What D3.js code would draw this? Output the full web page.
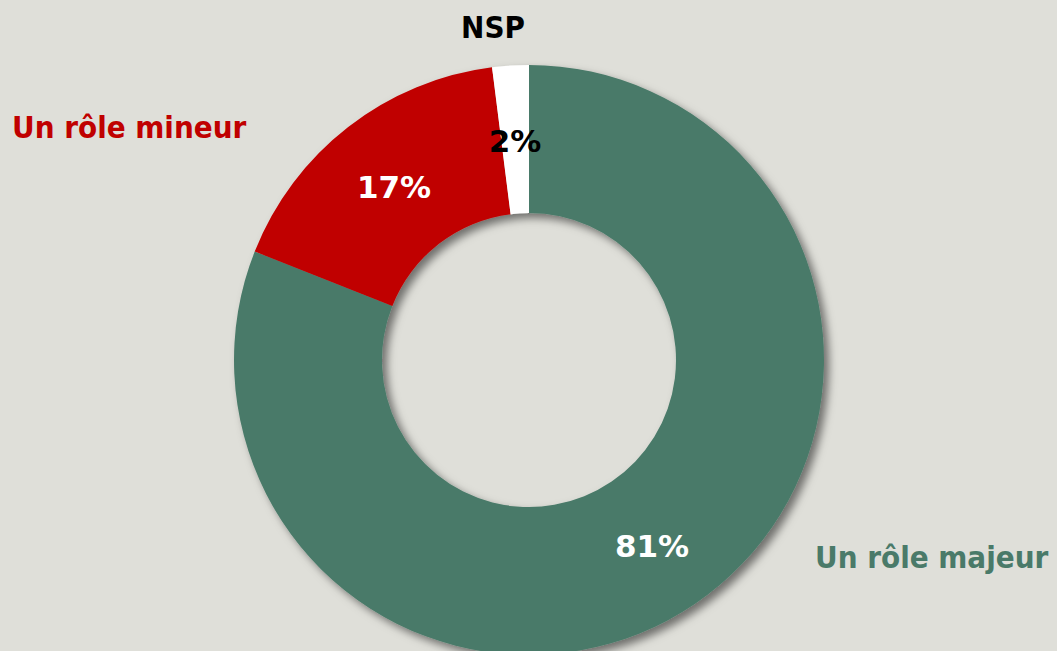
<!DOCTYPE html>
<html>
<head>
<meta charset="utf-8">
<script src="https://cdn.jsdelivr.net/npm/d3@7"></script>
<style>
  body { margin: 0; background: #dfdfd9; }
  text { font-weight: bold; }
  .val { font-family: "DejaVu Sans", Verdana, sans-serif; }
  .cat { font-family: "DejaVu Sans Condensed", "DejaVu Sans", sans-serif; font-stretch: condensed; }
</style>
</head>
<body>
<div id="chart"></div>
<script>
// data
var categories = ["Un rôle majeur", "Un rôle mineur", "NSP"];
var values = [81, 17, 2];
var colors = ["#4a7a69", "#c00000", "#ffffff"];
var labelColors = ["#4a7a69", "#c00000", "#000000"];
var valueColors = ["#ffffff", "#ffffff", "#000000"];

var width = 1057, height = 651;
var cx = 529, cy = 360;
var outerR = 295, innerR = 147;

var svg = d3.select("#chart").append("svg")
    .attr("width", width)
    .attr("height", height);

svg.append("rect").attr("width", width).attr("height", height).attr("fill", "#dfdfd9");

var defs = svg.append("defs");
var f = defs.append("filter").attr("id", "shadow")
    .attr("x", "-10%").attr("y", "-10%").attr("width", "120%").attr("height", "120%");
f.append("feDropShadow")
    .attr("dx", 5).attr("dy", 5).attr("stdDeviation", 4)
    .attr("flood-color", "#000").attr("flood-opacity", 0.5);

var data = categories.map(function (c, i) {
    return { name: c, value: values[i], i: i };
});

var pie = d3.pie().sort(null).value(function (d) { return d.value; });
var arc = d3.arc().innerRadius(innerR).outerRadius(outerR);

var g = svg.append("g")
    .attr("transform", "translate(" + cx + "," + cy + ")");

g.append("g").attr("filter", "url(#shadow)")
    .selectAll("path")
    .data(pie(data))
    .enter().append("path")
    .attr("d", arc)
    .attr("fill", function (d) { return colors[d.data.i]; });

// value labels (offsets)
var valuePos = [[123, 197], [-135, -162], [-14, -208]];
g.selectAll(".val")
    .data(data)
    .enter().append("text")
    .attr("class", "val")
    .attr("x", function (d) { return valuePos[d.i][0]; })
    .attr("y", function (d) { return valuePos[d.i][1]; })
    .attr("text-anchor", "middle")
    .attr("font-size", 31)
    .attr("fill", function (d) { return valueColors[d.i]; })
    .text(function (d) { return d.value + "%"; });

// category labels
var catPos = [[815, 568, "start"], [12, 138, "start"], [493, 38, "middle"]];
svg.selectAll(".cat")
    .data(data)
    .enter().append("text")
    .attr("class", "cat")
    .attr("x", function (d) { return catPos[d.i][0]; })
    .attr("y", function (d) { return catPos[d.i][1]; })
    .attr("text-anchor", function (d) { return catPos[d.i][2]; })
    .attr("font-size", 31)
    .attr("fill", function (d) { return labelColors[d.i]; })
    .text(function (d) { return d.name; });
</script>
</body>
</html>
